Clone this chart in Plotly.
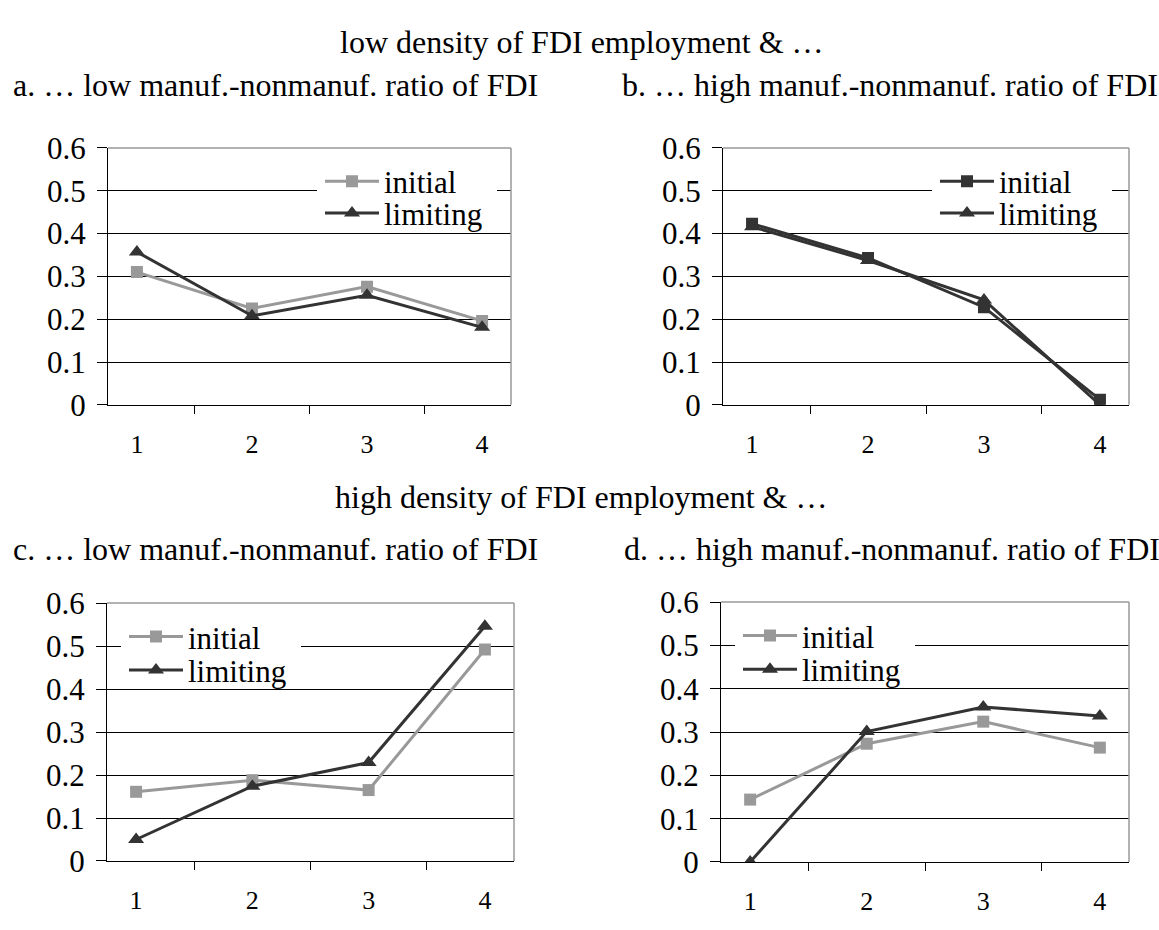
import plotly.graph_objects as go

W, H = 1159, 930

categories = ["1", "2", "3", "4"]

a_initial = [0.31, 0.225, 0.276, 0.196]
a_limiting = [0.357, 0.208, 0.256, 0.181]
b_initial = [0.423, 0.343, 0.228, 0.012]
b_limiting = [0.416, 0.337, 0.245, 0.0]
c_initial = [0.161, 0.188, 0.165, 0.492]
c_limiting = [0.05, 0.174, 0.229, 0.546]
d_initial = [0.144, 0.273, 0.324, 0.264]
d_limiting = [0.0, 0.301, 0.358, 0.337]

series_names = ["initial", "limiting"]
row_titles = ["low density of FDI employment & \u2026", "high density of FDI employment & \u2026"]
panel_titles = [
    "a. \u2026 low manuf.-nonmanuf. ratio of FDI",
    "b. \u2026 high manuf.-nonmanuf. ratio of FDI",
    "c. \u2026 low manuf.-nonmanuf. ratio of FDI",
    "d. \u2026 high manuf.-nonmanuf. ratio of FDI",
]
y_ticks = [0, 0.1, 0.2, 0.3, 0.4, 0.5, 0.6]
y_ticklabels = ["0", "0.1", "0.2", "0.3", "0.4", "0.5", "0.6"]

GRAY = "#999999"
DARK = "#333333"
FONT = "Liberation Serif"
CLEAR = "rgba(0,0,0,0)"


def px(x):
    return x / W


def py(y):
    return 1 - y / H


# panel boxes in pixels: (left, right, top, bottom)
boxes = [
    (108, 511, 136, 403),
    (723, 1129, 136, 403),
    (107, 514, 609, 877),
    (721, 1129, 608, 878),
]
data = [
    (a_initial, a_limiting, GRAY),
    (b_initial, b_limiting, DARK),
    (c_initial, c_limiting, GRAY),
    (d_initial, d_limiting, GRAY),
]
# legend left x and item centre y (initial, limiting) in pixels
legend_pos = [(317, 171, 204), (932, 171, 204), (121, 644, 679), (735, 643, 678)]

fig = go.Figure()
shapes = []
layout_upd = {}
for i, ((l, r, t, b), (ini, lim, icol)) in enumerate(zip(boxes, data)):
    n = i + 1
    xa = "x" if n == 1 else f"x{n}"
    ya = "y" if n == 1 else f"y{n}"
    lg1 = "legend" if n == 1 else f"legend{2 * n - 1}"
    lg2 = f"legend{2 * n}"
    fig.add_trace(go.Scatter(
        x=categories, y=ini, name=series_names[0], mode="lines+markers",
        line=dict(color=icol, width=3),
        marker=dict(symbol="square", size=12, color=icol),
        xaxis=xa, yaxis=ya, legend=lg1,
    ))
    fig.add_trace(go.Scatter(
        x=categories, y=lim, name=series_names[1], mode="lines+markers",
        line=dict(color=DARK, width=3),
        marker=dict(symbol="triangle-up", size=14, color=DARK),
        xaxis=xa, yaxis=ya, legend=lg2,
    ))
    xkey = "xaxis" if n == 1 else f"xaxis{n}"
    ykey = "yaxis" if n == 1 else f"yaxis{n}"
    layout_upd[xkey] = dict(
        domain=[px(l), px(r)], anchor=ya, type="category",
        categoryorder="array", categoryarray=categories,
        tickson="boundaries", ticks="outside", ticklen=8, tickcolor="black",
        showline=True, linecolor="black", linewidth=1, showgrid=False,
        tickfont=dict(family=FONT, size=26, color="black"),
        ticklabelstandoff=16, fixedrange=True,
    )
    layout_upd[ykey] = dict(
        domain=[py(b), py(t)], anchor=xa, range=[0, 0.6],
        tickvals=y_ticks, ticktext=y_ticklabels,
        ticks="outside", ticklen=10, tickcolor="black",
        showline=True, linecolor="black", linewidth=1,
        showgrid=True, gridcolor="black", gridwidth=1, zeroline=False,
        tickfont=dict(family=FONT, size=31, color="black"),
        ticklabelstandoff=5, fixedrange=True,
    )
    lx, cy1, cy2 = legend_pos[i]
    for lg, cy, bg in ((lg1, cy1, "white"), (lg2, cy2, CLEAR)):
        layout_upd[lg] = dict(
            x=px(lx), y=py(cy), xanchor="left", yanchor="middle",
            xref="paper", yref="paper", orientation="h",
            entrywidth=105, entrywidthmode="pixels",
            bgcolor=bg, bordercolor=bg, borderwidth=3, itemwidth=54,
            font=dict(family=FONT, size=31, color="black"),
            tracegroupgap=0, itemclick=False, itemdoubleclick=False,
        )
    xd = f"{xa} domain"
    yd = f"{ya} domain"
    shapes.append(dict(type="line", xref=xd, yref=yd, x0=0, x1=1, y0=1, y1=1,
                       line=dict(color=GRAY, width=1.5), layer="above"))
    shapes.append(dict(type="line", xref=xd, yref=yd, x0=1, x1=1, y0=0, y1=1,
                       line=dict(color=GRAY, width=1.5), layer="above"))

annotations = [
    dict(text=row_titles[0], x=px(582), y=py(26), xanchor="center", yanchor="middle"),
    dict(text=panel_titles[0], x=px(11), y=py(71), xanchor="left", yanchor="middle"),
    dict(text=panel_titles[1], x=px(620), y=py(71), xanchor="left", yanchor="middle"),
    dict(text=row_titles[1], x=px(581), y=py(499), xanchor="center", yanchor="middle"),
    dict(text=panel_titles[2], x=px(11), y=py(553), xanchor="left", yanchor="middle"),
    dict(text=panel_titles[3], x=px(622), y=py(553), xanchor="left", yanchor="middle"),
]
for a in annotations:
    a.update(xref="paper", yref="paper", showarrow=False,
             font=dict(family=FONT, size=32, color="black"))

fig.update_layout(layout_upd)
fig.update_layout(
    width=W, height=H, margin=dict(l=0, r=0, t=0, b=0),
    paper_bgcolor="white", plot_bgcolor="white",
    font=dict(family=FONT, color="black"),
    showlegend=True, shapes=shapes, annotations=annotations,
)

fig.write_html("out.html", config={"displayModeBar": False})
